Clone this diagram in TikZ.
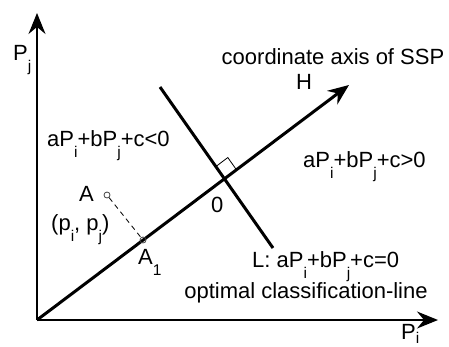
\documentclass[tikz,border=0pt]{standalone}
\usepackage{fontspec}
\setmainfont{Liberation Sans}
\usetikzlibrary{arrows.meta,calc}
\newcommand{\subidx}[1]{\raisebox{-0.5em}{\fontsize{15.5}{15.5}\selectfont #1}}

\begin{document}
\begin{tikzpicture}[x=1pt,y=-1pt,
    axis/.style={-{Stealth[length=21pt,width=17pt,inset=7pt]},line width=1.4pt},
    bold/.style={line width=3pt},
    lbl/.style={font=\fontsize{22}{25}\selectfont,inner sep=0pt},
    pt/.style={circle,draw=black!75,line width=0.8pt,minimum size=6pt,inner sep=0pt},
  ]
  \useasboundingbox (0,0) rectangle (449,346);

  % axes
  \coordinate (orig) at (37,320);
  \coordinate (yend) at (37,13);
  \coordinate (xend) at (438,320);
  \coordinate (hend) at (349,85);
  \draw[axis] (orig) -- (yend);
  \draw[axis] (orig) -- (xend);

  % SSP axis and classification line
  \draw[axis,bold] (orig) -- (hend);
  \coordinate (ltop) at (160,87);
  \coordinate (lbot) at (273,248);
  \coordinate (o) at (intersection of orig--hend and ltop--lbot);
  \draw[bold] (ltop) -- (lbot);

  % right angle mark
  \coordinate (ra) at ($(o)!15pt!(ltop)$);
  \coordinate (rb) at ($(o)!15pt!(hend)$);
  \draw[line width=0.8pt] (ra) -- ($(ra)+(rb)-(o)$) -- (rb);

  % sample point and its projection
  \node[pt] (a)  at (107,195) {};
  \node[pt] (a1) at (143,240) {};
  \draw[line width=0.8pt,dash pattern=on 5pt off 4pt] (a) -- (a1);

  % labels
  \node[lbl,anchor=base west] (pj) at (13,60) {P\subidx{j}};
  \node[lbl,anchor=base west] (pi) at (401,339)
    {P\raisebox{-0.2em}{\fontsize{15.5}{15.5}\selectfont i}};
  \node[lbl] (ssp) at (333,57) {coordinate axis of SSP};
  \node[lbl] (hlbl) at (304,82) {H};
  \node[lbl,anchor=base west] (neg) at (47,146) {aP\subidx{i}+bP\subidx{j}+c<0};
  \node[lbl,anchor=base west] (pos) at (303,167) {aP\subidx{i}+bP\subidx{j}+c>0};
  \node[lbl,anchor=base west] (zero) at (211,212) {0};
  \node[lbl,anchor=base west] (alab) at (79,201) {A};
  \node[lbl,anchor=base west] (acoord) at (51,230) {(p\subidx{i}, p\subidx{j})};
  \node[lbl,anchor=base west] (a1lab) at (138,264) {A\subidx{1}};
  \node[lbl,anchor=base west] (leq) at (252,267) {L: aP\subidx{i}+bP\subidx{j}+c=0};
  \node[lbl,anchor=base] (opt) at (306,298) {optimal classification-line};
\end{tikzpicture}
\end{document}
